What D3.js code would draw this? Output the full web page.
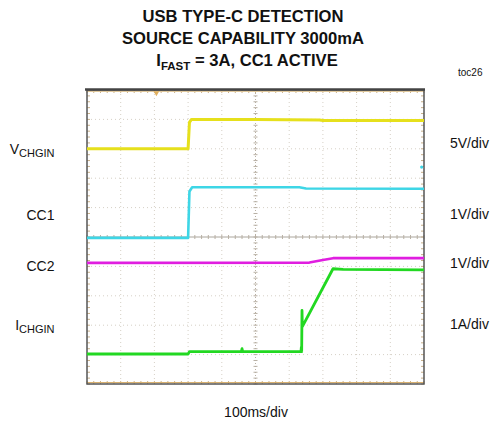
<!DOCTYPE html>
<html><head><meta charset="utf-8">
<script src="https://cdn.jsdelivr.net/npm/d3@7"></script>
<style>body{margin:0;background:#fff}svg{display:block}text{font-family:"Liberation Sans",Arial,sans-serif;fill:#111}</style>
</head><body>
<script>
// time in ms (100 ms/div, 10 div), value in screen divisions from bottom (0..10)
const titleLines = ["USB TYPE-C DETECTION", "SOURCE CAPABILITY 3000mA"];
const leftLabels = [{main:"V", sub:"CHGIN", y:8.0}, {main:"CC1", sub:"", y:5.74}, {main:"CC2", sub:"", y:4.02}, {main:"I", sub:"CHGIN", y:2.0}];
const rightLabels = [{t:"5V/div", y:8.2}, {t:"1V/div", y:5.77}, {t:"1V/div", y:4.1}, {t:"1A/div", y:2.03}];
const vchgin = [[0,8.0],[300,8.0],[304,8.9],[310,9.0],[500,9.0],[690,8.98],[700,8.96],[1000,8.96]];
const cc1 = [[0,4.97],[300,4.97],[304,6.55],[312,6.69],[630,6.69],[650,6.65],[1000,6.64]];
const cc2 = [[0,4.12],[660,4.13],[700,4.22],[730,4.28],[1000,4.28]];
const ichgin = [[0,1.02],[300,1.02],[304,1.1],[458,1.1],[460,1.2],[462,1.1],[635,1.1],[636,1.25],[637,1.1],[638,2.5],[639,1.95],[730,3.92],[760,3.9],[1000,3.88]];
const cc1Dot = [[993,7.38]];
const colors = {vchgin:"#e6e01c", cc1:"#3ed6e6", cc2:"#e01ee0", ichgin:"#22d822"};

const W=494,H=427;
const svg=d3.select("body").append("svg").attr("width",W).attr("height",H);
const x=d3.scaleLinear().domain([0,1000]).range([87,424]);
const y=d3.scaleLinear().domain([0,10]).range([384,90]);

// title
const tf="16.6px";
svg.append("text").attr("x",243).attr("y",22).attr("text-anchor","middle").style("font-weight","bold").style("font-size",tf).text(titleLines[0]);
svg.append("text").attr("x",243).attr("y",43.5).attr("text-anchor","middle").style("font-weight","bold").style("font-size",tf).text(titleLines[1]);
const t3=svg.append("text").attr("x",247).attr("y",65.5).attr("text-anchor","middle").style("font-weight","bold").style("font-size",tf);
t3.append("tspan").text("I");
t3.append("tspan").attr("dy",4).style("font-size","11.5px").text("FAST");
t3.append("tspan").attr("dy",-4).text(" = 3A, CC1 ACTIVE");
svg.append("text").attr("x",458).attr("y",76).style("font-size","10px").text("toc26");

// grid
const g=svg.append("g");
const xt=d3.range(0,1001,100), yt=d3.range(0,11,1);
g.selectAll(".vg").data(xt.slice(1,-1)).join("line").attr("x1",d=>x(d)).attr("x2",d=>x(d)).attr("y1",y(10)).attr("y2",y(0))
 .attr("stroke",d=>d===500?"#b8b0a4":"#d6d0c6").attr("stroke-width",1).attr("stroke-dasharray",d=>d===500?"1,2":"1,3");
g.selectAll(".hg").data(yt.slice(1,-1)).join("line").attr("x1",x(0)).attr("x2",x(1000)).attr("y1",d=>y(d)).attr("y2",d=>y(d))
 .attr("stroke",d=>d===5?"#aaa59c":"#d6d0c6").attr("stroke-width",1).attr("stroke-dasharray",d=>d===5?null:"1,3");
// minor ticks
const xm=d3.range(0,1001,20), ym=d3.range(0,10.01,0.2);
const tickc="#c8b08a";
g.selectAll(".mt").data(xm).join("line").attr("x1",d=>x(d)).attr("x2",d=>x(d)).attr("y1",y(10)).attr("y2",y(10)+3).attr("stroke",tickc);
g.selectAll(".mb").data(xm).join("line").attr("x1",d=>x(d)).attr("x2",d=>x(d)).attr("y1",y(0)).attr("y2",y(0)-3).attr("stroke",tickc);
g.selectAll(".mc").data(xm).join("line").attr("x1",d=>x(d)).attr("x2",d=>x(d)).attr("y1",y(5)-2).attr("y2",y(5)+2).attr("stroke","#b8b0a4");
g.selectAll(".ml").data(ym).join("line").attr("y1",d=>y(d)).attr("y2",d=>y(d)).attr("x1",x(0)).attr("x2",x(0)+3).attr("stroke",tickc);
g.selectAll(".mr").data(ym).join("line").attr("y1",d=>y(d)).attr("y2",d=>y(d)).attr("x1",x(1000)).attr("x2",x(1000)-3).attr("stroke",tickc);
g.selectAll(".mv").data(ym).join("line").attr("y1",d=>y(d)).attr("y2",d=>y(d)).attr("x1",x(500)-2).attr("x2",x(500)+2).attr("stroke","#b8b0a4");
// inner tan lines along top and bottom
g.append("line").attr("x1",x(0)).attr("x2",x(1000)).attr("y1",y(10)+1.5).attr("y2",y(10)+1.5).attr("stroke","#e0c89c").attr("stroke-width",1);
g.append("line").attr("x1",x(0)).attr("x2",x(1000)).attr("y1",y(0)-1.5).attr("y2",y(0)-1.5).attr("stroke","#d8b070").attr("stroke-width",1.2);
// frame
g.append("rect").attr("x",x(0)).attr("y",y(10)).attr("width",x(1000)-x(0)).attr("height",y(0)-y(10)).attr("fill","none").attr("stroke","#555").attr("stroke-width",1.5);
g.append("line").attr("x1",x(0)-2).attr("x2",x(1000)+1).attr("y1",y(10)-0.5).attr("y2",y(10)-0.5).attr("stroke","#444").attr("stroke-width",2.5);
// trigger marker
svg.append("path").attr("d",d3.symbol(d3.symbolTriangle,14)()).attr("transform",`translate(${x(206)},${y(10)+3}) rotate(180)`).attr("fill","#e0b060");

// traces
const line=d3.line().x(d=>x(d[0])).y(d=>y(d[1]));
const tr=svg.append("g").attr("fill","none").attr("stroke-linejoin","round");
tr.append("path").datum(vchgin).attr("d",line).attr("stroke",colors.vchgin).attr("stroke-width",3);
tr.append("path").datum(cc1).attr("d",line).attr("stroke",colors.cc1).attr("stroke-width",2.6);
tr.append("path").datum(cc2).attr("d",line).attr("stroke",colors.cc2).attr("stroke-width",2.6);
tr.append("path").datum(ichgin).attr("d",line).attr("stroke",colors.ichgin).attr("stroke-width",2.8);
svg.selectAll(".dot").data(cc1Dot).join("circle").attr("cx",d=>x(d[0])).attr("cy",d=>y(d[1])).attr("r",1.6).attr("fill",colors.cc1);

// left labels
leftLabels.forEach(l=>{
  const t=svg.append("text").attr("x",54.5).attr("y",y(l.y)+5).attr("text-anchor","end").style("font-size","14px");
  t.append("tspan").text(l.main);
  if(l.sub) t.append("tspan").attr("dy",3).style("font-size","11px").text(l.sub);
});
rightLabels.forEach(l=>{
  svg.append("text").attr("x",450).attr("y",y(l.y)+5).style("font-size","14px").text(l.t);
});
svg.append("text").attr("x",256).attr("y",417).attr("text-anchor","middle").style("font-size","14px").text("100ms/div");
</script>
</body></html>
